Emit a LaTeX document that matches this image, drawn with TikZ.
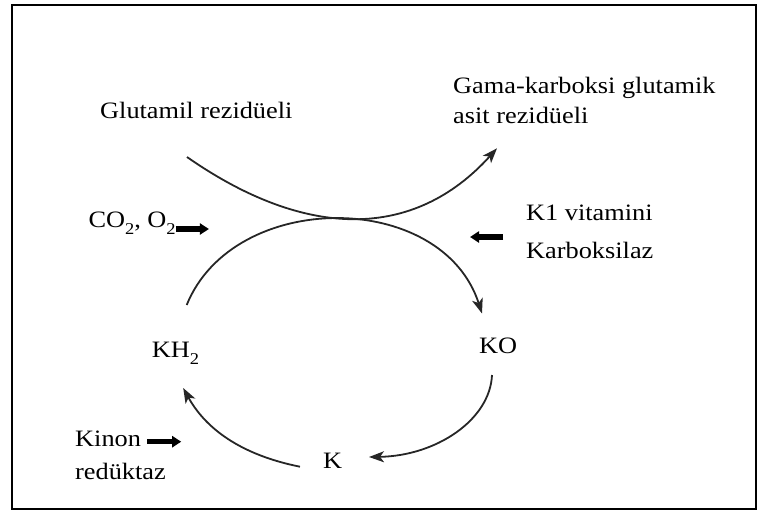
\documentclass[tikz,border=0pt]{standalone}
\usepackage{fontspec}
\setmainfont{Liberation Serif}[FakeStretch=1.12]
\usetikzlibrary{arrows.meta}
\newcommand{\lowtwo}{\raisebox{-0.32em}{\fontsize{16.5}{16.5}\selectfont 2}}

\begin{document}
\begin{tikzpicture}[x=1pt,y=-1pt,
  lbl/.style={inner sep=0pt,anchor=base west,font=\fontsize{23.5}{27}\selectfont},
  flow/.style={-{Stealth[length=15pt,width=11pt,inset=4pt]},line width=1.8pt,draw=black!85},
  fat/.style={-{Triangle[length=9pt,width=11pt]},line width=5.5pt}]
\useasboundingbox (0,0) rectangle (767,525);
\draw[line width=2pt] (12,5) rectangle (756,509);
% labels, placed at their baselines
\node[lbl] (glu) at (100,118) {Glutamil rezidüeli};
\node[lbl] (gama) at (453,93.3) {Gama-karboksi glutamik};
\node[lbl] (asit) at (453,123.3) {asit rezidüeli};
\node[lbl] (co) at (88.3,227) {CO\lowtwo, O\lowtwo};
\node[lbl] (kvit) at (526,220) {K1 vitamini};
\node[lbl] (karb) at (526,258) {Karboksilaz};
\node[lbl] (kh) at (151.7,357) {KH\lowtwo};
\node[lbl] (ko) at (479,353.5) {KO};
\node[lbl] (k) at (323,468) {K};
\node[lbl] (kinon) at (75,446.7) {Kinon};
\node[lbl] (red) at (75,479) {redüktaz};
% carboxylation: glutamil -> gama-karboksi
\draw[flow] ([shift={(87,39)}]glu.base west) .. controls +(119,83) and +(-83,92) .. ([shift={(44,25)}]asit.base west);
% vitamin K cycle
\draw[flow] ([shift={(35,-52)}]kh.base west) .. controls +(47,-116) and +(-40,-124) .. ([shift={(3,-40)}]ko.base west);
\draw[flow] ([shift={(13,21.5)}]ko.base west) .. controls +(-2,45) and +(67,-1) .. ([shift={(46,-11)}]k.base west);
\draw[flow] ([shift={(-23,-1.3)}]k.base west) .. controls +(-60,-12) and +(22,40) .. ([shift={(31.5,31)}]kh.base west);
% inputs
\draw[fat] ([shift={(0,2)}]co.base east) -- ++(33,0);
\draw[fat] ([shift={(-23,17)}]kvit.base west) -- ++(-33,0);
\draw[fat] ([shift={(6,-5)}]kinon.base east) -- ++(34,0);
\end{tikzpicture}
\end{document}
